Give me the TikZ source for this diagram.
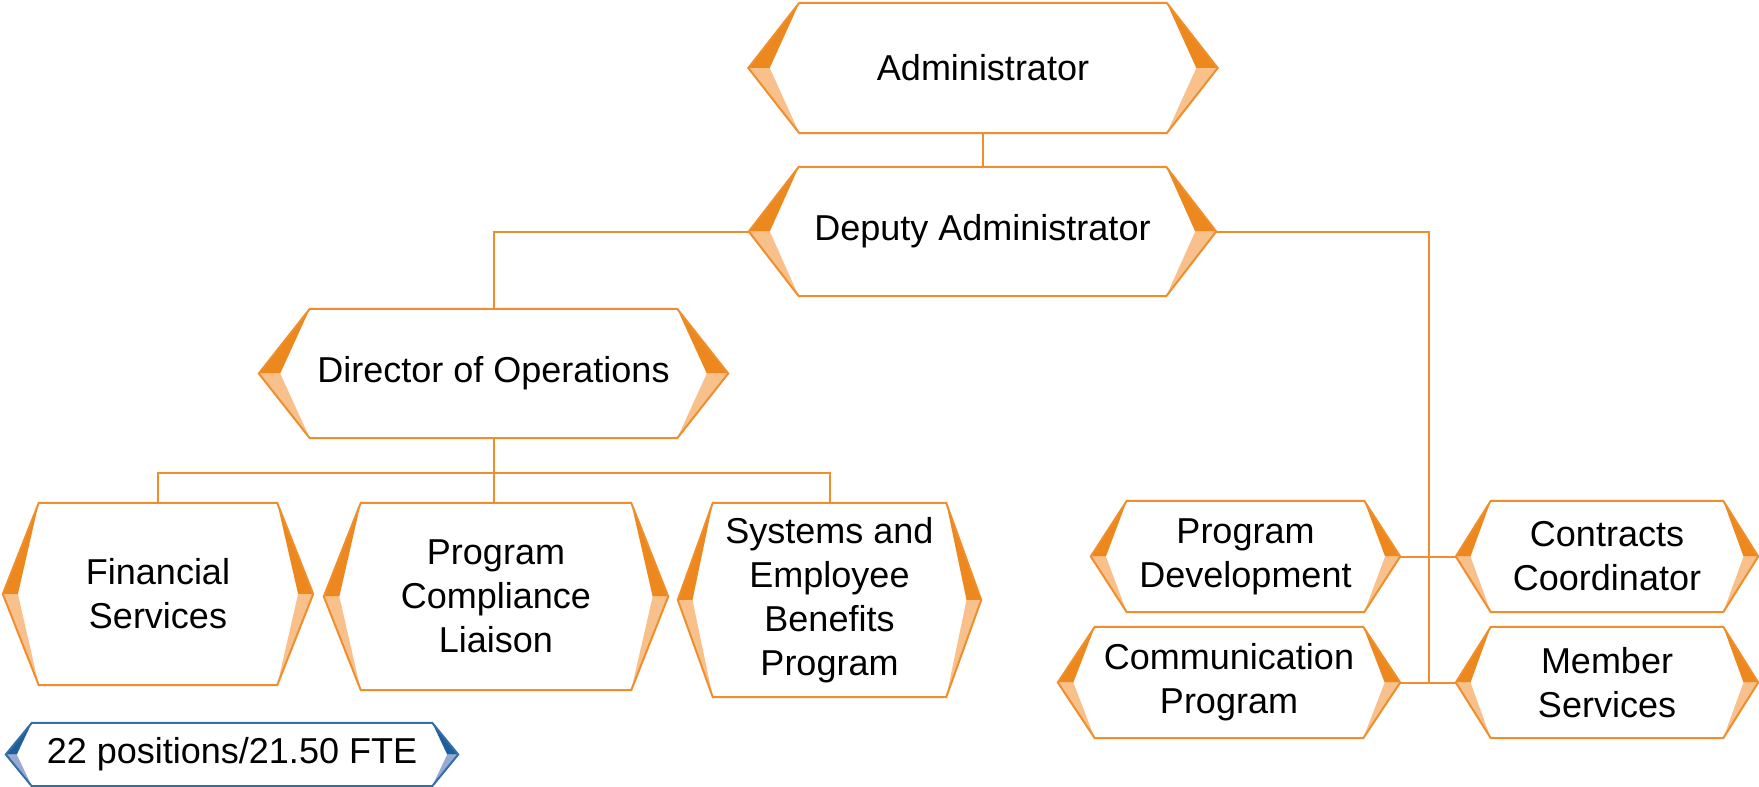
\documentclass[tikz,border=0pt]{standalone}
\usepackage{fontspec}
\setmainfont{Liberation Sans}

\definecolor{orgline}{RGB}{240,142,44}
\definecolor{orgdark}{RGB}{236,136,30}
\definecolor{orglight}{RGB}{248,193,140}
\definecolor{bluline}{RGB}{52,110,165}
\definecolor{bludark}{RGB}{30,94,155}
\definecolor{blulight}{RGB}{150,170,212}

\tikzset{
	box/.style={inner sep=0pt,align=center,font=\fontsize{36}{44}\selectfont},
	link/.style={draw=orgline,line width=2pt},
	hexline/.style={line width=2pt},
}

\begin{document}
\begin{tikzpicture}[x=1pt,y=-1pt]
	\useasboundingbox (0,0) rectangle (1759,787);

	% top of the chart
	\node[box,minimum width=469pt,minimum height=130pt] (admin) at (983,68) {Administrator};
	\node[box,minimum width=467pt,minimum height=129pt] (deputy) at (982.5,231.5) {Deputy Administrator};
	\node[box,minimum width=469pt,minimum height=129pt] (director) at (493.5,373.5) {Director of Operations};

	% operations units
	\node[box,minimum width=310pt,minimum height=182pt] (fin) at (158,594) {Financial\\Services};
	\node[box,minimum width=344pt,minimum height=187pt] (pcl) at (496,596.5) {Program\\Compliance\\Liaison};
	\node[box,minimum width=303pt,minimum height=194pt] (sys) at (829.5,600) {Systems and\\Employee\\Benefits\\Program};

	% units under the deputy
	\node[box,minimum width=309pt,minimum height=111pt] (pdev) at (1245.5,556.5) {Program\\Development};
	\node[box,minimum width=302pt,minimum height=111pt] (contr) at (1607,556.5) {Contracts\\Coordinator};
	\node[box,minimum width=342pt,minimum height=111pt] (comm) at (1229,682.5) {Communication\\Program};
	\node[box,minimum width=302pt,minimum height=111pt] (member) at (1607,682.5) {Member\\Services};

	\node[box,minimum width=452pt,minimum height=63pt] (legend) at (232,754.5) {22 positions/21.50 FTE};

	% connectors
	\draw[link] (admin.south) -- (deputy.north -| admin.south);
	\draw[link] (deputy.west) -| (director.north);
	\draw[link] (director.south) -- ++(0,35) coordinate (bus);
	\draw[link] (fin.north) |- (bus) -| (sys.north);
	\draw[link] (bus) -- (bus |- pcl.north);
	\coordinate (spine) at (1429,682.5);
	\draw[link] (deputy.east) -| (spine);
	\draw[link] (pdev.east) -- (contr.west);
	\draw[link] (comm.east) -- (member.west);

	% hexagon outlines with bevelled points
	\foreach \n/\d in {admin/51,deputy/50,director/51,fin/36,pcl/37,sys/35,pdev/36,contr/35,comm/37,member/35} {
		\fill[orgdark] ([xshift=\d pt]\n.north west) -- (\n.west) -- ([xshift={0.42*\d*1pt}]\n.west) -- cycle;
		\fill[orglight] ([xshift={0.42*\d*1pt}]\n.west) -- (\n.west) -- ([xshift=\d pt]\n.south west) -- cycle;
		\fill[orgdark] ([xshift=-\d pt]\n.north east) -- (\n.east) -- ([xshift={-0.42*\d*1pt}]\n.east) -- cycle;
		\fill[orglight] ([xshift={-0.42*\d*1pt}]\n.east) -- (\n.east) -- ([xshift=-\d pt]\n.south east) -- cycle;
		\draw[hexline,orgline] ([xshift=\d pt]\n.north west) -- ([xshift=-\d pt]\n.north east) -- (\n.east)
			-- ([xshift=-\d pt]\n.south east) -- ([xshift=\d pt]\n.south west) -- (\n.west) -- cycle;
	}

	% legend
	\fill[bludark] ([xshift=26pt]legend.north west) -- (legend.west) -- ([xshift=11pt]legend.west) -- cycle;
	\fill[blulight] ([xshift=11pt]legend.west) -- (legend.west) -- ([xshift=26pt]legend.south west) -- cycle;
	\fill[bludark] ([xshift=-26pt]legend.north east) -- (legend.east) -- ([xshift=-11pt]legend.east) -- cycle;
	\fill[blulight] ([xshift=-11pt]legend.east) -- (legend.east) -- ([xshift=-26pt]legend.south east) -- cycle;
	\draw[hexline,bluline] ([xshift=26pt]legend.north west) -- ([xshift=-26pt]legend.north east) -- (legend.east)
		-- ([xshift=-26pt]legend.south east) -- ([xshift=26pt]legend.south west) -- (legend.west) -- cycle;
\end{tikzpicture}
\end{document}
